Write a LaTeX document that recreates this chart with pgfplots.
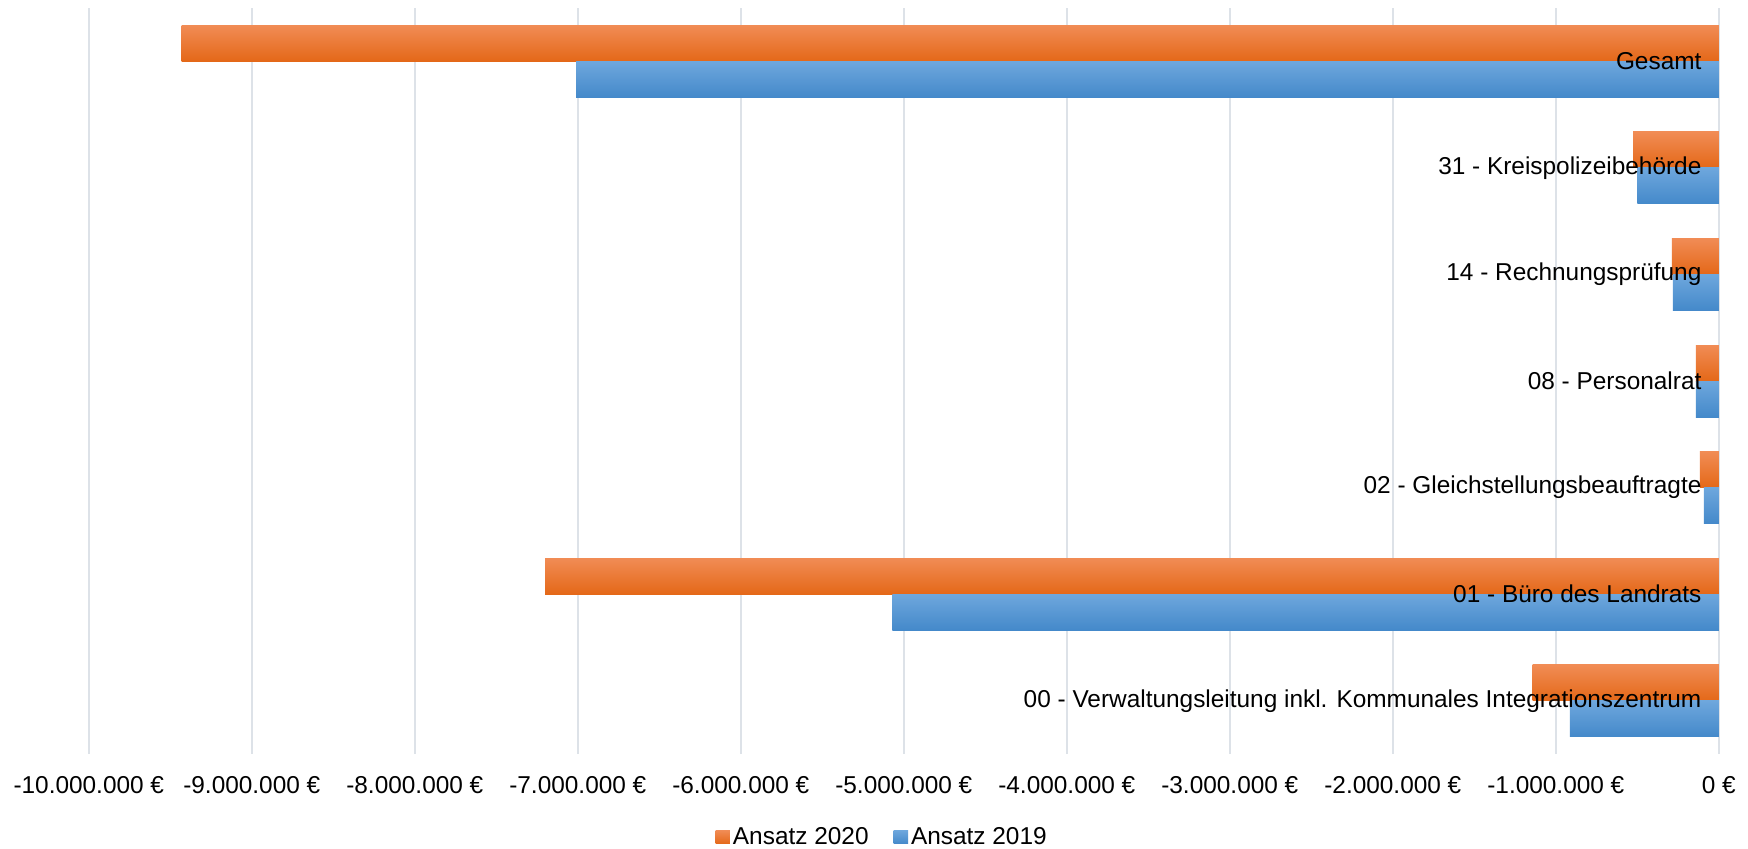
\documentclass[border=0pt]{standalone}
\usepackage{fontspec}
\setmainfont{Liberation Sans}
\usepackage{pgfplots}
\pgfplotsset{compat=1.18}
\definecolor{gridc}{RGB}{221,226,232}
\definecolor{oTop}{RGB}{241,140,85}
\definecolor{oMid}{RGB}{245,126,40}
\definecolor{oBot}{RGB}{228,104,24}
\definecolor{bTop}{RGB}{110,167,221}
\definecolor{bMid}{RGB}{84,152,220}
\definecolor{bBot}{RGB}{68,137,202}
\pgfplotsset{
  o20/.style={draw=none, top color=oTop, middle color=oMid, bottom color=oBot, bar shift=9pt},
  b19/.style={draw=none, top color=bTop, middle color=bMid, bottom color=bBot, bar shift=-9pt},
}
\begin{document}
\fontsize{12.2}{14.6}\selectfont
\begin{tikzpicture}
\useasboundingbox (0,0) rectangle (874pt,424pt);
\begin{axis}[
  at={(44.4pt,47pt)}, anchor=south west,
  scale only axis, width=815pt, height=373pt,
  xmin=-10, xmax=0, ymin=-0.5, ymax=6.5,
  xtick={-10,-9,...,0},
  xticklabels={-10.000.000 €,-9.000.000 €,-8.000.000 €,-7.000.000 €,-6.000.000 €,-5.000.000 €,-4.000.000 €,-3.000.000 €,-2.000.000 €,-1.000.000 €,0 €},
  xticklabel style={font=\fontsize{12.2}{14.6}\selectfont, yshift=-7pt},
  ytick=\empty,
  major tick length=0pt,
  axis line style={draw=none},
  xmajorgrids, grid style={gridc, line width=1pt},
  xbar, bar width=18pt,
  legend style={at={(axis description cs:0.487,-0.112)}, anchor=center, draw=none,
    inner sep=0pt, outer sep=0pt,
    legend columns=2, font=\fontsize{12.2}{14.6}\selectfont,
    nodes={inner sep=1.5pt},
    /tikz/every even column/.append style={column sep=11pt}},
  legend image code/.code={\fill[#1] (0pt,-3.2pt) rectangle (7.2pt,3.6pt);},
]
% Ansatz 2020 (values in million EUR), one bar per plot so each has its own gradient
\addplot[o20] coordinates {(-9.43,6)};
\addlegendentry{Ansatz 2020}
\addplot[o20, forget plot] coordinates {(-0.526,5)};
\addplot[o20, forget plot] coordinates {(-0.288,4)};
\addplot[o20, forget plot] coordinates {(-0.141,3)};
\addplot[o20, forget plot] coordinates {(-0.117,2)};
\addplot[o20, forget plot] coordinates {(-7.20,1)};
\addplot[o20, forget plot] coordinates {(-1.143,0)};
% Ansatz 2019
\addplot[b19] coordinates {(-7.01,6)};
\addlegendentry{Ansatz 2019}
\addplot[b19, forget plot] coordinates {(-0.50,5)};
\addplot[b19, forget plot] coordinates {(-0.282,4)};
\addplot[b19, forget plot] coordinates {(-0.141,3)};
\addplot[b19, forget plot] coordinates {(-0.092,2)};
\addplot[b19, forget plot] coordinates {(-5.07,1)};
\addplot[b19, forget plot] coordinates {(-0.914,0)};
\node[anchor=east, xshift=-6.5pt, inner sep=2pt] at (axis cs:0,6) {Gesamt};
\node[anchor=east, xshift=-6.5pt, inner sep=2pt] at (axis cs:0,5) {31 - Kreispolizeibehörde};
\node[anchor=east, xshift=-6.5pt, inner sep=2pt] at (axis cs:0,4) {14 - Rechnungsprüfung};
\node[anchor=east, xshift=-6.5pt, inner sep=2pt] at (axis cs:0,3) {08 - Personalrat};
\node[anchor=east, xshift=-6.5pt, inner sep=2pt] at (axis cs:0,2) {02 - Gleichstellungsbeauftragte};
\node[anchor=east, xshift=-6.5pt, inner sep=2pt] at (axis cs:0,1) {01 - Büro des Landrats};
\node[anchor=east, xshift=-6.5pt, inner sep=2pt] at (axis cs:0,0) {00 - Verwaltungsleitung inkl. Kommunales Integrationszentrum};
\end{axis}
\end{tikzpicture}
\end{document}
